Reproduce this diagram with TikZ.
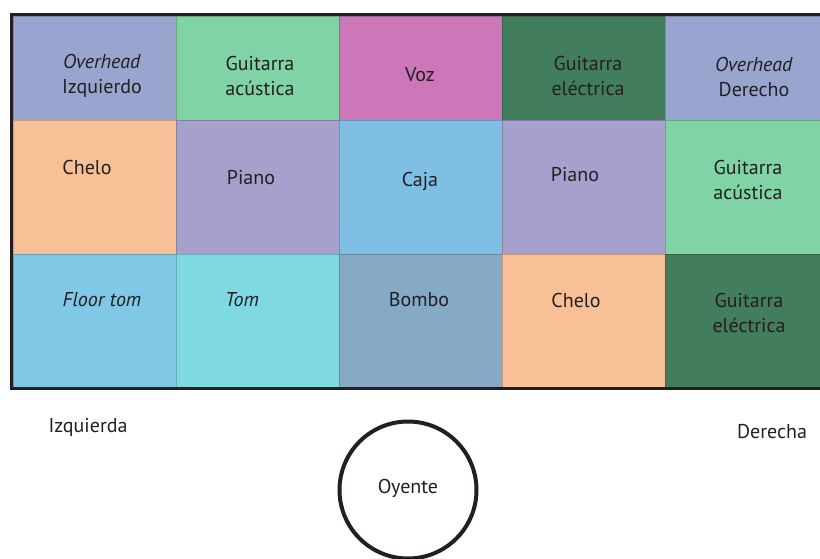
\documentclass[tikz,border=0pt]{standalone}
\usepackage{fontspec}
\setmainfont{PT Sans}
\usetikzlibrary{positioning}
\definecolor{overhead}{HTML}{98A5CE}
\definecolor{acustica}{HTML}{80D3A5}
\definecolor{voz}{HTML}{CC78B8}
\definecolor{electrica}{HTML}{427D5E}
\definecolor{chelo}{HTML}{F8C097}
\definecolor{piano}{HTML}{A5A0CC}
\definecolor{caja}{HTML}{7EBFE3}
\definecolor{floortom}{HTML}{7FC8E6}
\definecolor{tomcol}{HTML}{7FD9E0}
\definecolor{bombo}{HTML}{86A9C5}
\definecolor{ink}{HTML}{231F20}

\begin{document}
\begin{tikzpicture}[x=1pt,y=-1pt,
  cell/.style={draw=#1!80!black, fill=#1, line width=0.6pt,
               anchor=north west, minimum width=163pt, inner sep=0pt},
  lbl/.style={font=\fontsize{20}{25}\selectfont, text=ink, align=center,
              inner sep=0pt}]
  \useasboundingbox (0,0) rectangle (820,558);
  % Cells, row by row
  \foreach \col [count=\i from 0] in {overhead,acustica,voz,electrica,overhead}
    \node[cell=\col, minimum height=104pt] (ra\i) at (13+163*\i,16) {};
  \foreach \col [count=\i from 0] in {chelo,piano,caja,piano,acustica}
    \node[cell=\col, minimum height=134pt] (rb\i) at (13+163*\i,120) {};
  \foreach \col [count=\i from 0] in {floortom,tomcol,bombo,chelo,electrica}
    \node[cell=\col, minimum height=134pt] (rc\i) at (13+163*\i,254) {};
  % Frame
  \draw[ink, line width=3pt] (11.5,14.5) rectangle (832,388.5);
  % Labels, top row
  \node[lbl] (ohizq) at (102,76) {\textit{Overhead}\\Izquierdo};
  \node[lbl] (acus1) at (260,76) {Guitarra\\acústica};
  \node[lbl] (voz)   at (420,75) {Voz};
  \node[lbl] (elec1) at (588,76) {Guitarra\\eléctrica};
  \node[lbl] (ohder) at (754,77) {\textit{Overhead}\\Derecho};
  % Middle row
  \node[lbl] (chelo1) at (87,167)  {Chelo};
  \node[lbl] (piano1) at (251,178) {Piano};
  \node[lbl] (caja)   at (420,181) {Caja};
  \node[lbl] (piano2) at (575,175) {Piano};
  \node[lbl] (acus2)  at (748,180) {Guitarra\\acústica};
  % Bottom row
  \node[lbl] (floor)  at (102,300) {\textit{Floor tom}};
  \node[lbl] (tom)    at (242,300) {\textit{Tom}};
  \node[lbl] (bombo)  at (419,300) {Bombo};
  \node[lbl] (chelo2) at (576,300) {Chelo};
  \node[lbl] (elec2)  at (749,313) {Guitarra\\eléctrica};
  % Listener
  \node[lbl] (izq) at (88,427)  {Izquierda};
  \node[lbl] (der) at (772,432) {Derecha};
  \node[draw=ink, circle, line width=4pt, minimum size=137pt] (oyente) at (408,490) {};
  \node[lbl] (oyentetxt) at (408,488) {Oyente};
\end{tikzpicture}
\end{document}
